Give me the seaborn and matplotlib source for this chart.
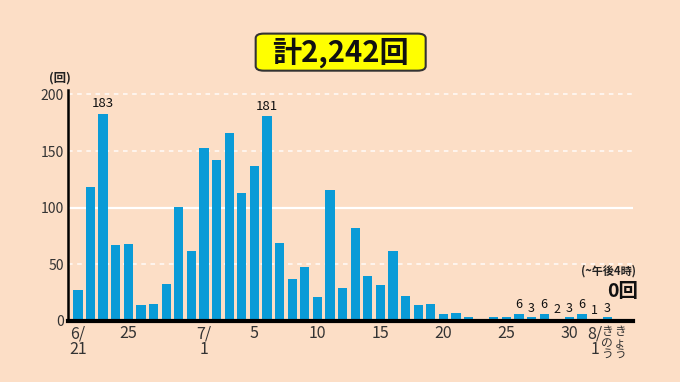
import matplotlib
matplotlib.use("Agg")
import matplotlib.pyplot as plt
import seaborn as sns
import pandas as pd
from matplotlib.patches import FancyBboxPatch

# ---- data ----
dates = (["6/%d" % d for d in range(21, 31)] +
         ["7/%d" % d for d in range(1, 32)] +
         ["8/1", "8/2", "8/3"])
counts = [27, 118, 183, 67, 68, 14, 15, 33, 101, 62,
          153, 142, 166, 113, 137, 181, 69, 37, 48, 21, 116, 29, 82, 40, 32,
          62, 22, 14, 15, 6, 7, 3, 1, 3, 3, 6, 3, 6, 2, 3, 6, 1, 3, 0]
tick_dates = ["6/21", "6/25", "7/1", "7/5", "7/10", "7/15", "7/20",
              "7/25", "7/30", "8/1", "8/2", "8/3"]
tick_labels = ["6/\n21", "25", "7/\n1", "5", "10", "15", "20",
               "25", "30", "8/\n1", "き\nの\nう", "き\nょ\nう"]
labeled_dates = ["6/23", "7/6", "7/26", "7/27", "7/28", "7/29",
                 "7/30", "7/31", "8/1", "8/2"]
y_ticks = [0, 50, 100, 150, 200]
title_text = "計2,242回"
today_note = "(~午後4時)"
today_value = "0回"

df = pd.DataFrame({"date": dates, "count": counts})

BG = "#FCDEC6"
BAR = "#0A9BD7"

sns.set_theme(style="white")
plt.rcParams["font.family"] = ["Noto Sans CJK JP", "DejaVu Sans"]

fig = plt.figure(figsize=(6.8, 3.82), dpi=100)
fig.patch.set_facecolor(BG)
ax = fig.add_axes([0.1, 0.160, 0.831, 0.604])
ax.set_facecolor(BG)

sns.barplot(data=df, x="date", y="count", order=dates, color=BAR,
            saturation=1, width=0.74, linewidth=0, ax=ax, zorder=3)

ax.set_xlim(-0.79, 44.05)
ax.set_ylim(0, 203.8)

# grid
for yv in y_ticks[1:]:
    if yv == 100:
        ax.axhline(yv, color="white", lw=1.6, zorder=1)
    else:
        ax.axhline(yv, color="white", lw=1.1, ls=(0, (3, 3)), alpha=0.9,
                   zorder=1)

ax.set_yticks(y_ticks)
ax.set_yticklabels([str(v) for v in y_ticks], fontsize=10, color="#333333")
pos = [dates.index(d) for d in tick_dates]
ax.set_xticks(pos)
ax.set_xticklabels(tick_labels, fontsize=11.5, color="#333333",
                   va="top", linespacing=0.95)
for lbl in ax.get_xticklabels():
    if "き" in lbl.get_text():
        lbl.set_fontsize(8.5)
        lbl.set_linespacing(0.85)
ax.tick_params(axis="both", length=0, pad=3)
ax.set_xlabel("")
ax.set_ylabel("")

for side in ["top", "right"]:
    ax.spines[side].set_visible(False)
ax.spines["left"].set_color("black")
ax.spines["left"].set_linewidth(1.8)
ax.spines["bottom"].set_color("black")
ax.spines["bottom"].set_linewidth(3)
ax.spines["left"].set_zorder(5)
ax.spines["bottom"].set_zorder(5)

# value labels
for d in labeled_dates:
    i = dates.index(d)
    v = counts[i]
    big = v > 100
    ax.text(i, v + (3 if big else 2.5), str(v), ha="center", va="bottom",
            fontsize=9.5 if big else 9, color="#111111",
            fontstretch="condensed", zorder=6)

# unit label
fig.text(0.088, 0.795, "(回)", ha="center", va="center", fontsize=9,
         fontweight="bold", color="#222222")

# today annotation
fig.text(0.895, 0.290, today_note, ha="center", va="center", fontsize=8,
         fontweight="bold", color="#222222")
fig.text(0.916, 0.236, today_value, ha="center", va="center", fontsize=14,
         fontweight="bold", color="#111111")

# title box
box = FancyBboxPatch((0.376, 0.815), 0.250, 0.097,
                     boxstyle="round,pad=0,rounding_size=0.012",
                     transform=fig.transFigure, facecolor="#FFFF00",
                     edgecolor="#333333", linewidth=1.5)
fig.patches.append(box)
fig.text(0.501, 0.862, title_text, ha="center", va="center", fontsize=21,
         fontweight="bold", color="#111111")

fig.savefig("out.png", dpi=100, facecolor=BG)
